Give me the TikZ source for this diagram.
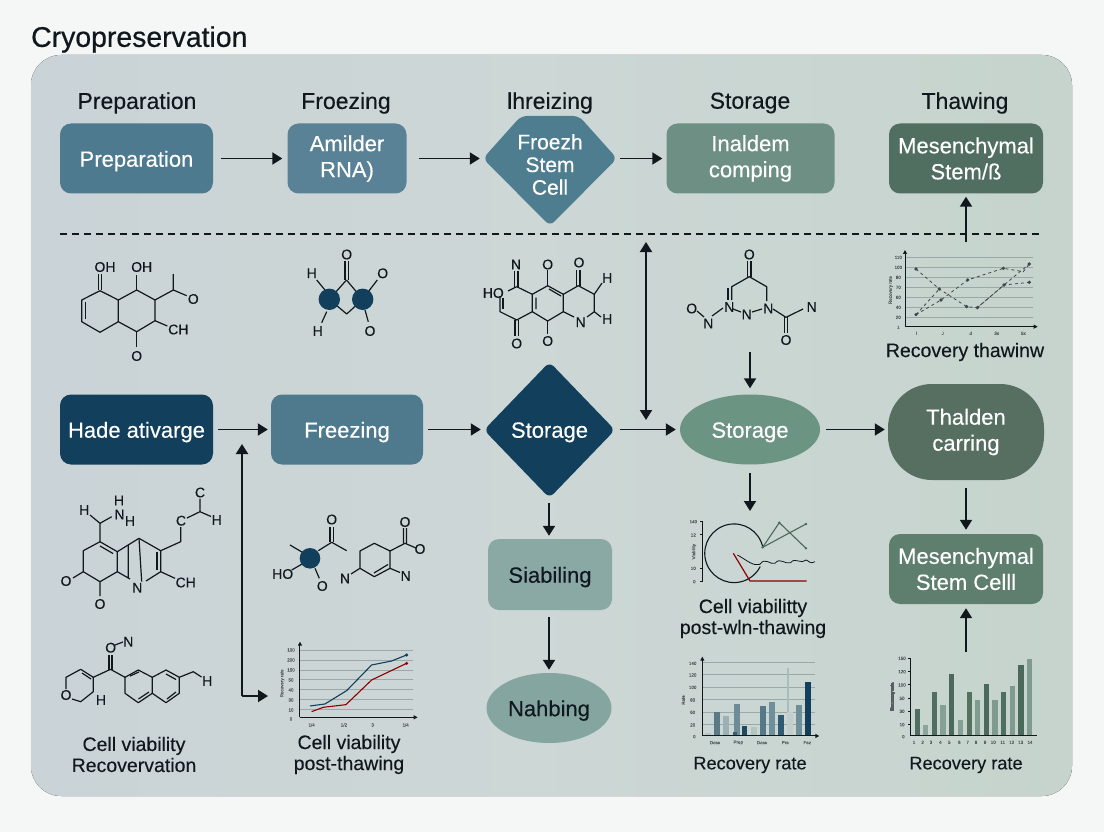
\documentclass[tikz,border=0pt]{standalone}
\usepackage{fontspec}
\setmainfont{Liberation Sans}[FakeBold=0.25]
\newfontface\titlefont{Liberation Sans}[FakeBold=0.6]
\usetikzlibrary{arrows.meta,shapes.geometric}
\definecolor{pagebg}{HTML}{F5F6F6}
\definecolor{panL}{HTML}{CAD3D7}
\definecolor{panR}{HTML}{C6D4CD}
\definecolor{ink}{HTML}{10181E}
\definecolor{navy}{HTML}{123F5C}
\definecolor{grid}{HTML}{9AA8AA}
\newcounter{atomc}
\newcommand{\atm}[3]{\stepcounter{atomc}\node[atomlabel] (atom\theatomc) at (#1,#2) {#3};}
\newcommand{\tck}[3]{\stepcounter{atomc}\node[ticklabel] (tick\theatomc) at (#1,#2) {#3};}
\newcommand{\barr}[5]{\definecolor{barcol}{HTML}{#5}\fill[barcol] ({#1-#3},#2) rectangle ({#1+#3},#4);}
\tikzset{
  boxbase/.style={inner sep=0pt,align=center,text=white,font=\fontsize{22}{26}\selectfont,execute at begin node={\rule{0pt}{21pt}}},
  pbox/.style={boxbase,rectangle,rounded corners=11pt},
  ghost/.style={boxbase,rectangle},
  oval/.style={boxbase,ellipse},
  head/.style={text=ink,font=\fontsize{23}{26}\selectfont,inner sep=0pt},
  capt/.style={text=ink,align=center,inner sep=0pt,font=\fontsize{19.5}{21}\selectfont},
  conn/.style={draw=ink,line width=1.9pt,-{Triangle[length=10pt,width=12pt]}},
  conn2/.style={draw=ink,line width=1.9pt,{Triangle[length=10pt,width=12pt]}-{Triangle[length=10pt,width=12pt]}},
  bond/.style={draw=ink,line width=1.2pt,line join=round},
  atomlabel/.style={text=ink,inner sep=0pt,font=\fontsize{14}{15}\selectfont},
  ticklabel/.style={text=ink!70,inner sep=0pt,font=\fontsize{4.5}{5}\selectfont},
  axisl/.style={draw=ink,line width=1pt},
  axisa/.style={draw=ink,line width=1pt,-{Triangle[length=4pt,width=4pt]}},
  gridl/.style={draw=grid,line width=.7pt},
}
\begin{document}
\begin{tikzpicture}[x=1pt,y=-1pt]
\useasboundingbox (0,0) rectangle (1104,832);
\fill[pagebg] (0,0) rectangle (1104,832);
\fill[left color=panL,right color=panR,middle color=panL!50!panR!92!white,rounded corners=30pt] (31,55) rectangle (1072,796);
\node[anchor=west,inner sep=0pt,text=ink,font=\titlefont\fontsize{28.4}{30}\selectfont] (title) at (31,39.5) {Cryopreservation};

% column heads
\node[head] (h1) at (137,103) {Preparation};
\node[head] (h2) at (346,103) {Froezing};
\node[head] (h3) at (550,103) {lhreizing};
\node[head] (h4) at (750,103) {Storage};
\node[head] (h5) at (965,103) {Thawing};

% top row
\definecolor{cA}{HTML}{4E7A90}
\definecolor{cB}{HTML}{5A8297}
\definecolor{cC}{HTML}{4F7D90}
\definecolor{cD}{HTML}{6E9084}
\definecolor{cE}{HTML}{506F60}
\node[pbox,minimum width=153pt,minimum height=70pt,fill=cA] (a1) at (136.5,158.5) {Preparation};
\node[pbox,minimum width=119pt,minimum height=70pt,fill=cB] (a2) at (347,158.5) {Amilder\\RNA)};
\fill[cC,rounded corners=6pt] (521,116) -- (579,116) -- (617,158.5) -- (550,226) -- (483,158.5) -- cycle;
\node[ghost,minimum width=126pt,minimum height=70pt,font=\fontsize{21}{22.7}\selectfont] (a3) at (550,164.5) {Froezh\\Stem\\Cell};
\node[pbox,minimum width=168pt,minimum height=70pt,fill=cD] (a4) at (750.5,158.5) {Inaldem\\comping};
\node[pbox,minimum width=154pt,minimum height=70pt,fill=cE] (a5) at (966,158.5) {Mesenchymal\\Stem/ß};

\draw[conn,shorten <=8pt,shorten >=5pt] (a1.east) -- (a2.west);
\draw[conn,shorten <=12pt,shorten >=7pt] (a2.east) -- (a2.east -| a3.west);
\draw[conn,shorten <=7pt,shorten >=4pt] (a4.west -| a3.east) -- (a4.west);
\coordinate (chartTop) at (966,242);
\draw[conn] (chartTop) -- ([yshift=-3pt]a5.south);

% dashed rule
\coordinate (ruleL) at (60,234);
\coordinate (ruleR) at (1043,234);
\draw[ink,line width=1.8pt,dash pattern=on 7pt off 5pt] (ruleL) -- (ruleR);

% second row
\definecolor{cF}{HTML}{4F7A8E}
\definecolor{cG}{HTML}{6B9482}
\definecolor{cH}{HTML}{566F60}
\definecolor{cI}{HTML}{8AA8A4}
\definecolor{cJ}{HTML}{85A6A0}
\definecolor{cK}{HTML}{5F7F6E}
\node[pbox,minimum width=153pt,minimum height=70pt,fill=navy] (b1) at (136.5,429.5) {Hade ativarge};
\node[pbox,minimum width=152pt,minimum height=70pt,fill=cF] (b2) at (347,429.5) {Freezing};
\fill[navy,rounded corners=6pt] (549.5,362) -- (615,430) -- (549.5,498) -- (484,430) -- cycle;
\node[ghost,minimum width=125pt,minimum height=60pt] (b3) at (549.5,429.5) {Storage};
\node[oval,minimum width=140pt,minimum height=70pt,fill=cG] (b4) at (750,429.5) {Storage};
\node[boxbase,rectangle,rounded corners=44pt,minimum width=156pt,minimum height=96pt,fill=cH] (b5) at (966,432) {Thalden\\carring};
\node[pbox,minimum width=124pt,minimum height=71pt,fill=cI,text=ink] (c1) at (550,574.5) {Siabiling};
\node[oval,minimum width=125pt,minimum height=70pt,fill=cJ,text=ink] (c2) at (549,708) {Nahbing};
\node[pbox,minimum width=154pt,minimum height=70pt,fill=cK] (c3) at (966,569) {Mesenchymal\\Stem Celll};

\draw[conn,shorten <=5pt,shorten >=3pt] (b1.east) -- (b2.west);
\draw[conn,shorten <=5pt,shorten >=6pt] (b2.east) -- (b3.west);
\draw[conn,shorten <=7.5pt,shorten >=4pt] (b3.east) -- (b4.west);
\draw[conn,shorten <=6pt,shorten >=3pt] (b4.east) -- (b4.east -| b5.west);
\draw[conn,shorten <=8pt,shorten >=4pt] (b5.south) -- (c3.north);
\coordinate (barTop) at (966,652);
\draw[conn,shorten >=4pt] (barTop) -- (c3.south);
\coordinate (dia2S) at (549,503);
\draw[conn,shorten >=3pt] (dia2S) -- (dia2S |- c1.north);
\draw[conn,shorten <=7pt,shorten >=3pt] (c1.south -| c2.north) -- (c2.north);
\coordinate (mol4S) at (750,352);
\draw[conn,shorten >=6pt] (mol4S) -- (b4.north);
\coordinate (chartV) at (750,511);
\draw[conn,shorten <=8pt] (b4.south) -- (chartV);
\coordinate (vTop) at (646,242);
\coordinate (vBot) at (646,420);
\draw[conn2] (vTop) -- (vBot);
\coordinate (eTop) at (242,444);
\coordinate (eEnd) at (268,696);
\draw[conn2,rounded corners=1pt] (eTop) |- (eEnd);

% captions
\node[capt] (t1) at (134,754.5) {Cell viability\\Recovervation};
\node[capt] (t2) at (349,754.5) {Cell viability\\post-thawing};
\node[capt] (t3) at (753,618.5) {Cell viabilitty\\post-wln-thawing};
\node[capt,font=\fontsize{18.2}{21}\selectfont] (t4) at (750,765) {Recovery rate};
\node[capt,font=\fontsize{18.2}{21}\selectfont] (t5) at (966,765) {Recovery rate};
\node[capt] (t6) at (965,352) {Recovery thawinw};

% molecule 1
\draw[bond] (81.7,300)--(100,290.7)--(118.3,300)--(118.3,321.7)--(100,332.3)--(81.7,321.7)--cycle;
\draw[bond] (118.3,300)--(136.7,290)--(155,300)--(155,320.7)--(136.7,331.7)--(118.3,321.7);
\draw[bond] (85.5,302)--(85.5,319);
\draw[bond] (98.5,274)--(98.5,290) (101.5,274)--(101.5,290);
\draw[bond] (136.7,275)--(136.7,290) (136.7,331.7)--(136.7,347);
\draw[bond] (155,300)--(173.3,290)--(173.3,274) (173.3,290)--(186.7,295.7);
\draw[bond] (155,320.7)--(167.3,326);
\atm{105}{267}{OH}\atm{141.7}{267}{OH}\atm{193.3}{299}{O}\atm{178.3}{329.5}{CH}\atm{136.7}{356}{O}

% molecule 2
\draw[bond] (346.5,280)--(329.3,299.3) (346.5,280)--(362.7,299.3) (329.3,299.3)--(346.7,314)--(362.7,299.3);
\draw[bond] (345,261)--(345,280) (348.3,261)--(348.3,280);
\draw[bond] (316.7,280)--(325,290) (326.7,311.7)--(321.7,322.7) (368.3,291.7)--(377.3,280) (365,310)--(368.3,321.7);
\fill[navy] (329.3,299.3) circle[radius=10.7];
\fill[navy] (362.7,299.3) circle[radius=10.7];
\atm{346.7}{254.5}{O}\atm{311.7}{273.3}{H}\atm{317.7}{331}{H}\atm{382.7}{273.3}{O}\atm{370}{331}{O}

% molecule 3
\draw[bond] (500,296)--(500,311.7)--(516.7,320)--(532.3,311.7)--(532.3,294.3)--(516.7,286.7)--(508,291);
\draw[bond] (503,298)--(503,309);
\draw[bond] (532.3,294.3)--(547.7,285.7)--(563.3,294.3)--(563.3,311.7)--(547.7,321)--(532.3,311.7);
\draw[bond] (536,297.5)--(536,309) (549,289)--(561,296);
\draw[bond] (563.3,294.3)--(578.3,285.7)--(594.3,294.3)--(594.3,311.7)--(587,317) (574,317)--(563.3,311.7);
\draw[bond] (514.8,271)--(514.8,286.7) (518,271)--(518,286.7) (547.7,270)--(547.7,285.7);
\draw[bond] (576.8,270)--(576.8,285.7) (580,270)--(580,285.7);
\draw[bond] (594.3,294.3)--(602,283) (594.3,311.7)--(601,317);
\draw[bond] (515,320)--(515,336) (518.3,320)--(518.3,336) (547.7,321)--(547.7,334);
\atm{516}{264.5}{N}\atm{547.7}{264.5}{O}\atm{579}{262.5}{O}\atm{493.3}{293}{HO}\atm{516.7}{343.5}{O}\atm{547.7}{341}{O}\atm{580.7}{322.3}{N}\atm{607.3}{278}{H}\atm{607.3}{319}{H}

% molecule 4
\draw[bond] (747.7,261)--(747.7,277) (751,261)--(751,277);
\draw[bond] (731.7,300)--(731.7,286.7)--(749.3,276.7)--(766.7,286.7)--(766.7,301);
\draw[bond] (728,288)--(728,300);
\draw[bond] (733,309)--(741,312) (752,312)--(762,309);
\draw[bond] (773,309)--(786,317.3)--(803,309);
\draw[bond] (784.3,317.3)--(784.3,333) (787.7,317.3)--(787.7,333);
\draw[bond] (723,308)--(712,316) (697,311)--(704,317);
\atm{749.3}{254.5}{O}\atm{729.3}{307}{N}\atm{746.7}{314.5}{N}\atm{768.3}{308.5}{N}\atm{691.7}{308.5}{O}\atm{708.3}{323.5}{N}\atm{786}{340}{O}\atm{811.7}{307}{N}

% molecule 5
\draw[bond] (90,515)--(100,523.3)--(111.7,516.7) (100,523.3)--(100,541.7);
\draw[bond] (100,541.7)--(117.3,551.7)--(117.3,571.7)--(100,581.7)--(83.3,571.7)--(83.3,550.7)--cycle;
\draw[bond] (100,546)--(113,553.5);
\draw[bond] (83.3,571.7)--(73,578) (100,581.7)--(100,596);
\draw[bond] (117.3,551.7)--(139,538.3)--(160.7,550.7)--(160.7,571.7)--(146,581);
\draw[bond] (157,552)--(157,570);
\draw[bond] (117.3,571.7)--(130,579) (128.3,545)--(128.3,578) (139,538.3)--(141.7,581.7);
\draw[bond] (160.7,571.7)--(175,578.3);
\draw[bond] (160.7,550.7)--(180.7,541.7)--(180.7,527);
\draw[bond] (187,518)--(200,511.7)--(200,498.5) (200,511.7)--(211,516.5);
\atm{84.3}{510}{H}\atm{119}{500.5}{H}\atm{119.5}{514.5}{N}\atm{130}{521}{H}\atm{181}{520.7}{C}\atm{200}{492.5}{C}\atm{216.7}{520}{H}\atm{66}{581}{O}\atm{100}{604}{O}\atm{137.3}{587.7}{N}\atm{185.7}{582.5}{CH}

% molecule 6
\draw[bond] (115,645)--(123,642);
\draw[bond] (109,655)--(109,670) (112,655)--(112,670);
\draw[bond] (125,677.3)--(110.5,669.3)--(93.3,677.3)--(80.7,669.3)--(66,677.3)--(66,689) (72,699)--(80.7,701.7)--(93.3,691.7)--(93.3,677.3);
\draw[bond] (82,673)--(91,679);
\draw[bond] (125,677.3)--(138.3,670)--(152.3,677.3)--(152.3,693.3)--(138.3,702.7)--(125,693.3)--cycle;
\draw[bond] (152.3,677.3)--(166,670)--(179.3,677.3)--(179.3,693.3)--(166,702.7)--(152.3,693.3);
\draw[bond] (130,676)--(139,672) (138.5,699)--(149,692) (166,674)--(176,679.5) (167,699)--(176,692);
\draw[bond] (179.3,677.3)--(193.3,671.7)--(201.5,677);
\atm{110.7}{647.7}{O}\atm{128.3}{641.7}{N}\atm{66}{695}{O}\atm{101}{700}{H}\atm{207.3}{681}{H}

% molecule 7
\draw[bond] (290,545)--(303,552.7) (318.3,550.7)--(331.7,542.3)--(346.7,550.7);
\draw[bond] (330,527)--(330,542) (333.3,527)--(333.3,542);
\draw[bond] (291.7,570)--(303.3,563.3) (315,568.3)--(319.3,578.3);
\fill[navy] (310,558.3) circle[radius=10.3];
\draw[bond] (360,551)--(374.3,543.3)--(390,551)--(390,568.3)--(374.3,576.7)--(360,568.3)--cycle;
\draw[bond] (374,573)--(388,564.5);
\draw[bond] (403.5,528)--(403.5,543) (406.5,528)--(406.5,543) (390,551)--(405,543.3)--(416,548);
\draw[bond] (360,568.3)--(351,574) (390,568.3)--(400,572.5);
\atm{331.7}{519.5}{O}\atm{282.7}{574}{HO}\atm{322.3}{586}{O}\atm{405}{522}{O}\atm{420}{549}{O}\atm{345}{578.5}{N}\atm{405.7}{576}{N}

% line chart, lower left (zoom coordinates)
\begin{scope}[shift={(40,480)},x=.3333pt,y=-.3333pt]
\foreach \yy in {510,540,570,598,628,658,688} \draw[gridl] (780,\yy)--(1120,\yy);
\draw[axisa] (780,712)--(780,485);
\draw[axisa] (780,712)--(1133,712);
\draw[draw=navy,line width=1.1pt] (810,678)--(855,672)--(920,632)--(995,555)--(1055,543)--(1100,525);
\draw[draw=red!55!black,line width=1.1pt] (815,695)--(850,682)--(918,674)--(995,600)--(1100,550);
\fill[navy] (1100,525) circle[radius=5];
\fill[red!55!black] (1100,550) circle[radius=5];
\tck{753}{510}{100}\tck{753}{540}{200}\tck{753}{570}{150}\tck{753}{600}{50}\tck{753}{630}{40}\tck{753}{660}{30}\tck{753}{690}{10}\tck{753}{717}{0}
\tck{815}{735}{1/4}\tck{912}{735}{1/2}\tck{998}{735}{3}\tck{1097}{735}{1/4}
\node[ticklabel,rotate=90] (lineYlab) at (727,610) {Recovery rate};
\end{scope}

% top right scatter
\begin{scope}[shift={(860,240)},x=.3333pt,y=-.3333pt]
\foreach \yy in {52,82,112,142,172,202,232} \draw[gridl] (135,\yy)--(520,\yy);
\draw[axisa] (135,260)--(135,30);
\draw[axisa] (135,260)--(533,260);
\draw[dashed,draw=ink!80,line width=.8pt] (168,87)--(238,147)--(320,200)--(352,203)--(432,135)--(508,127);
\draw[dashed,draw=ink!80,line width=.8pt] (168,224)--(243,180)--(323,120)--(430,85)--(490,95)--(508,72);
\draw[dashed,draw=ink!80,line width=.8pt] (168,224)--(238,147);
\draw[dashed,draw=ink!80,line width=.8pt] (352,203)--(432,135)--(508,72);
\foreach \px/\py in {168/87,238/147,320/200,352/203,432/135,508/127,168/224,243/180,323/120,430/85,508/72} \fill[ink!80] (\px,\py) circle[radius=5.5];
\tck{115}{52}{110}\tck{115}{82}{100}\tck{115}{112}{80}\tck{115}{142}{70}\tck{115}{172}{60}\tck{115}{202}{40}\tck{115}{232}{20}\tck{115}{262}{1}
\tck{170}{280}{l}\tck{248}{280}{J}\tck{332}{280}{d}\tck{410}{280}{3x}\tck{490}{280}{5x}
\node[ticklabel,rotate=90] (scatYlab) at (92,150) {Recovery rate};
\end{scope}

% middle chart
\begin{scope}[shift={(660,500)},x=.3333pt,y=-.3333pt]
\draw[axisl] (120,65)--(127,65)--(127,245)--(120,245);
\draw[axisl] (120,105)--(127,105) (120,205)--(127,205);
\draw[draw=ink,line width=1.1pt] (308,140) arc[start angle=-13,end angle=-333,radius=88];
\draw[draw=cG!70!black,line width=1.1pt] (308,142)--(358,68)--(438,145);
\draw[draw=cG!70!black,line width=1.1pt] (308,142)--(438,72);
\fill[cG!70!black] (308,142) circle[radius=4] (358,68) circle[radius=4] (438,145) circle[radius=4] (438,72) circle[radius=4];
\draw[draw=ink,line width=.8pt] (232,165) .. controls (260,180) and (280,200) .. (300,193) .. controls (315,170) and (330,195) .. (345,190) .. controls (360,170) and (375,195) .. (392,188) .. controls (405,170) and (425,195) .. (438,180) .. controls (445,180) and (450,195) .. (465,185);
\draw[draw=red!55!black,line width=1.2pt] (220,160)--(270,243)--(440,243);
\tck{100}{65}{140}\tck{100}{105}{12}\tck{100}{205}{10}\tck{103}{245}{0}
\node[ticklabel,rotate=90] (midYlab) at (102,155) {Viability};

% bar chart 5
\foreach \yy in {487,523,562,598,636,673} \draw[gridl] (127,\yy)--(465,\yy);
\barr{143}{700}{9}{708}{B6C4C8}
\barr{171}{636}{9}{708}{5B7A87}
\barr{198}{648}{9}{708}{9DB0B3}
\barr{232}{613}{9}{708}{6E8C98}
\barr{225}{697}{7}{708}{3A6070}
\barr{253}{678}{8}{708}{1D4A63}
\barr{282}{680}{10}{708}{B4C4C0}
\barr{309}{618}{9}{708}{55788A}
\barr{336}{606}{9}{708}{6F8F9C}
\barr{362}{645}{9}{708}{2F5A72}
\barr{384}{505}{2}{708}{A9BCC0}
\barr{390}{636}{9}{708}{C0CFCC}
\barr{417}{615}{9}{708}{6F8F98}
\barr{444}{547}{9}{708}{123F5C}
\draw[axisa] (127,708)--(127,470);
\draw[axisa] (127,708)--(478,708);
\tck{98}{490}{140}\tck{98}{525}{120}\tck{98}{562}{100}\tck{98}{600}{80}\tck{98}{637}{60}\tck{98}{675}{20}\tck{103}{710}{0}
\tck{165}{728}{Dose}\tck{235}{728}{Prep}\tck{306}{728}{Dose}\tck{376}{728}{Pre}\tck{442}{728}{Fez}
\node[ticklabel,rotate=90] (barYlab) at (70,600) {Rate};
\end{scope}

% bar chart 6
\begin{scope}[shift={(870,640)},x=.3333pt,y=-.3333pt]
\barr{142}{207}{8}{288}{4F6F62}
\barr{166}{256}{8}{288}{8BA59A}
\barr{193}{156}{8}{288}{4F6F62}
\barr{219}{194}{8}{288}{86A096}
\barr{245}{102}{8}{288}{4C6A5C}
\barr{271}{240}{8}{288}{86A096}
\barr{298}{156}{8}{288}{54725F}
\barr{323}{180}{8}{288}{7F9A8E}
\barr{349}{132}{8}{288}{4C6A5C}
\barr{375}{180}{8}{288}{7F9A8E}
\barr{401}{155}{8}{288}{4F6F62}
\barr{428}{137}{8}{288}{7F9A8E}
\barr{453}{76}{8}{288}{4C6A5C}
\barr{479}{57}{8}{288}{7F9A8E}
\draw[axisl] (122,55)--(122,288)--(500,288);
\foreach \yy in {55,95,135,175,215,255} \draw[axisl] (114,\yy)--(122,\yy);
\tck{96}{55}{150}\tck{96}{95}{120}\tck{96}{135}{100}\tck{96}{175}{50}\tck{96}{214}{30}\tck{96}{254}{10}\tck{100}{290}{0}
\foreach \px/\lb in {132/1,158/2,183/3,211/4,238/5,268/6,293/7,318/8,345/9,370/10,398/11,425/12,452/13,480/14} \tck{\px}{307}{\lb}
\node[ticklabel,rotate=90] (bar6Ylab) at (68,170) {Recovery rate};
\end{scope}
\end{tikzpicture}
\end{document}
